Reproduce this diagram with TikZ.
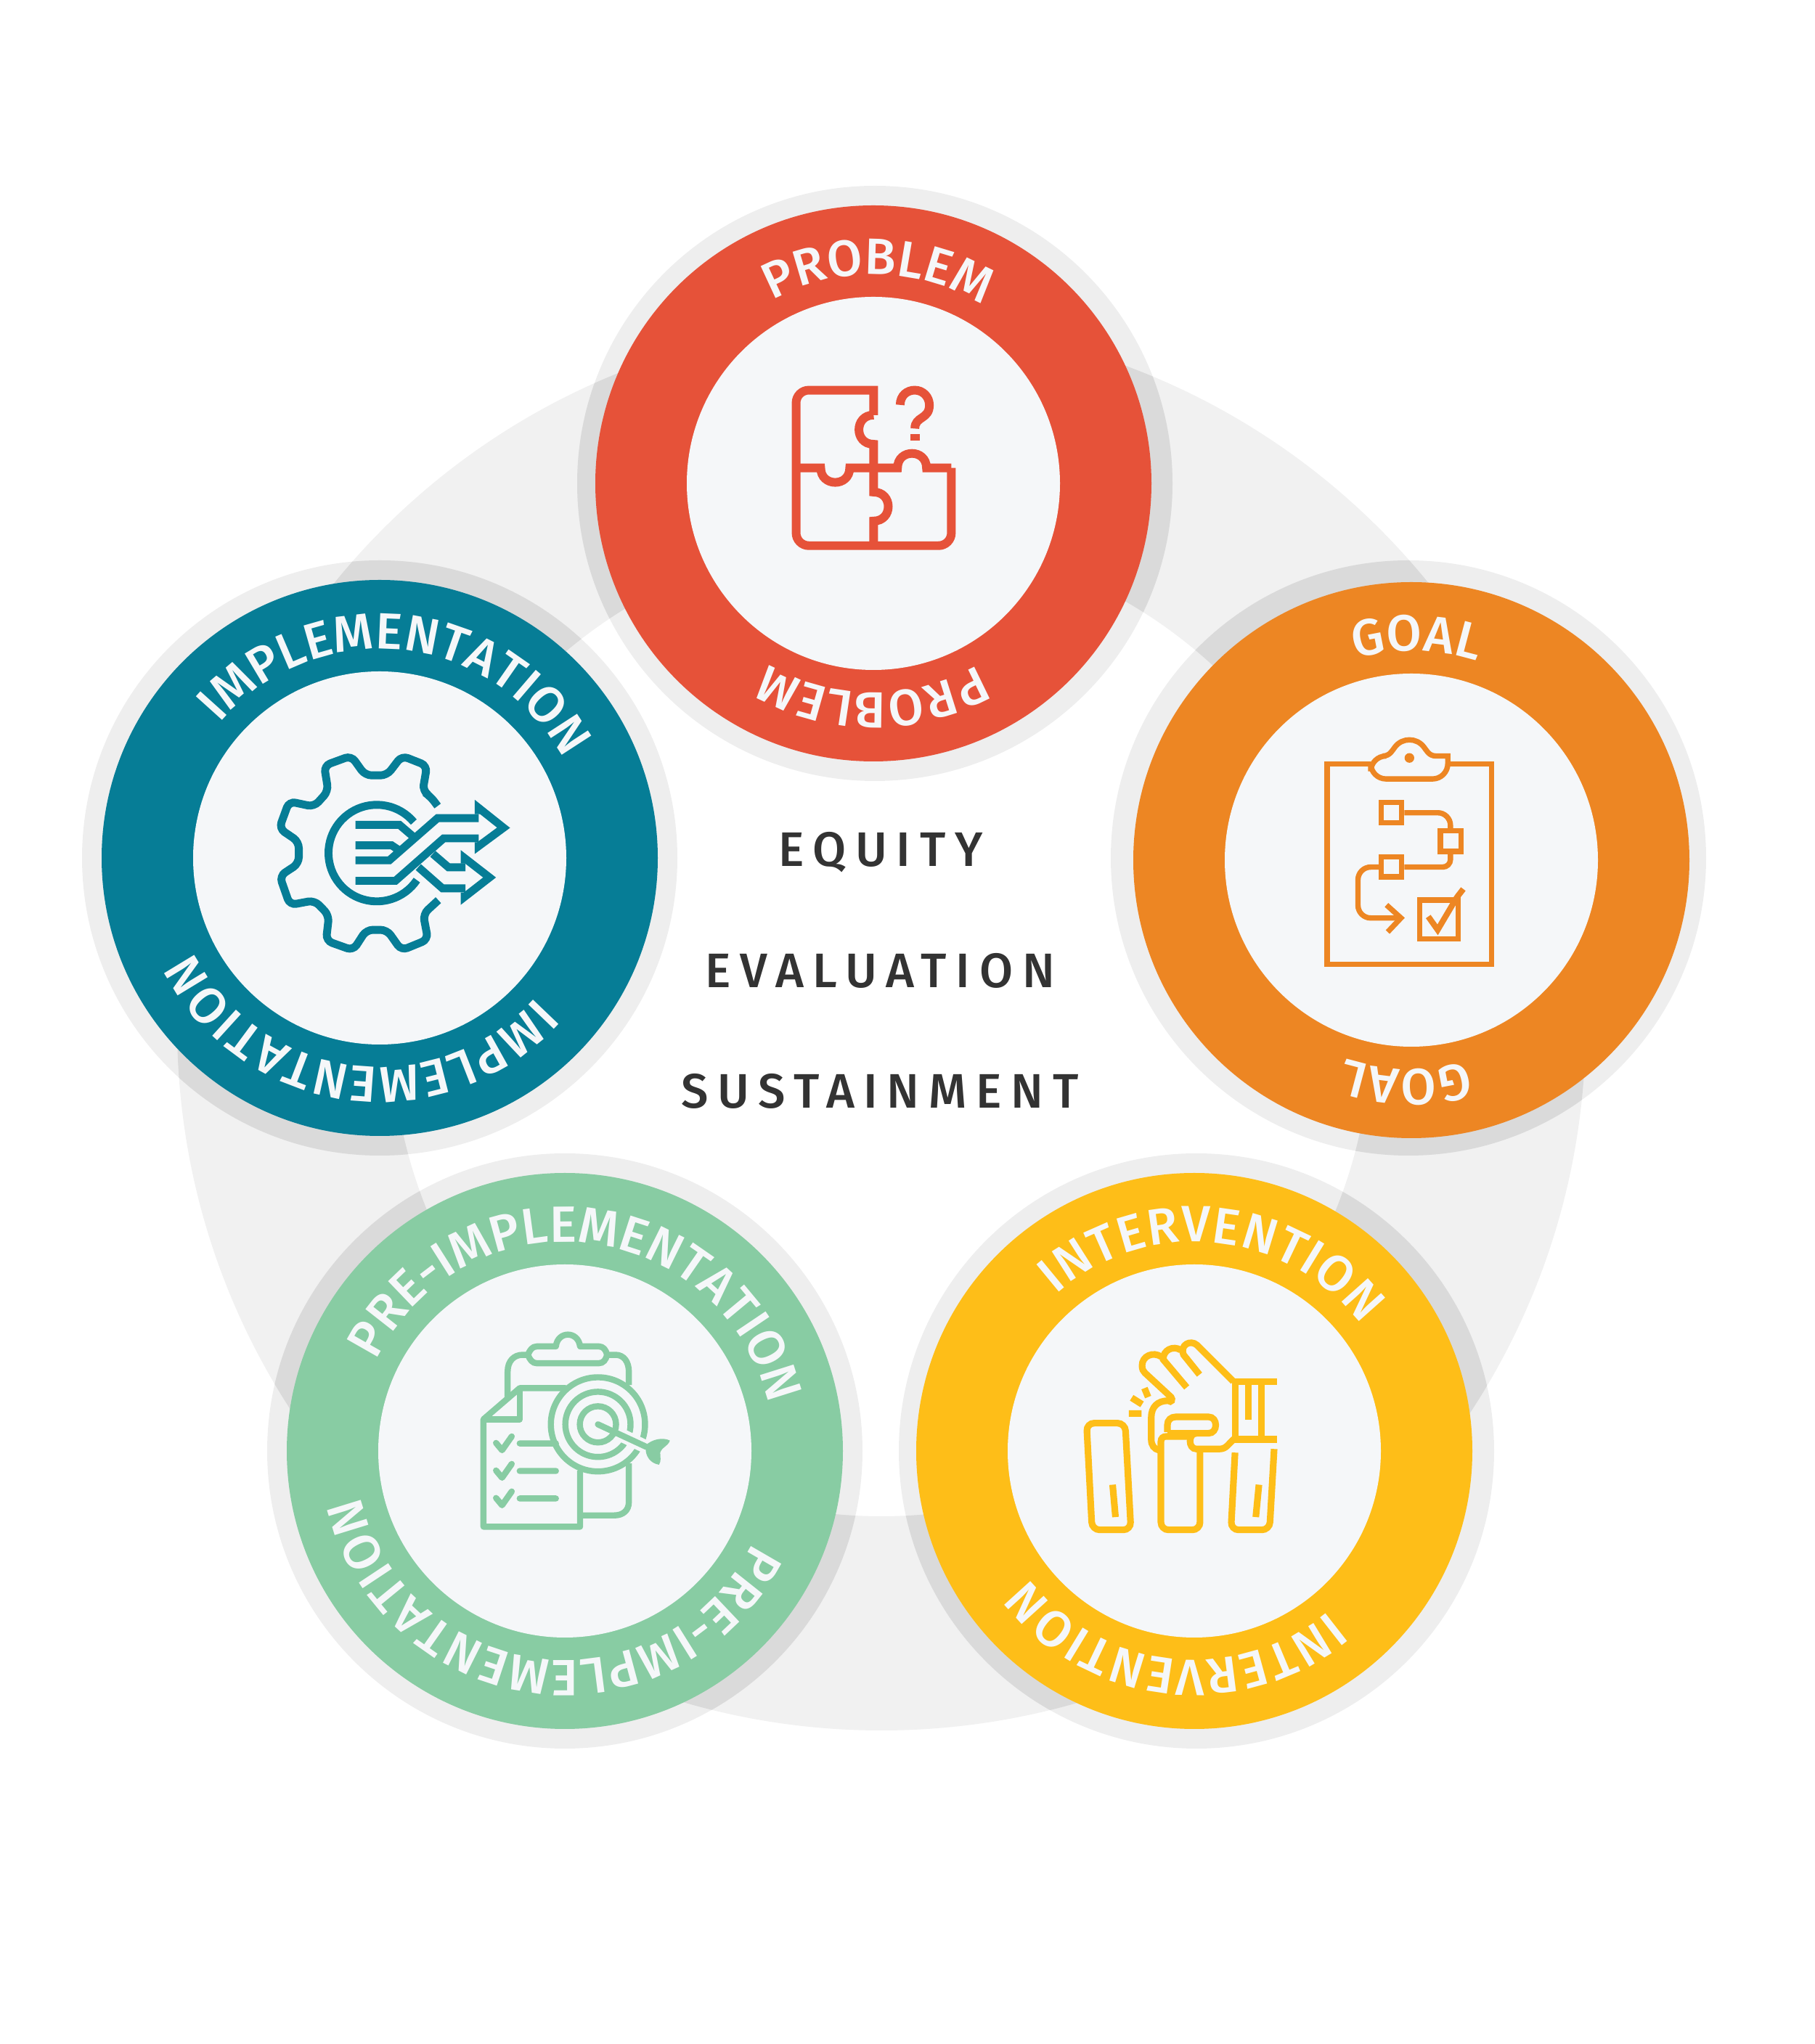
\documentclass[tikz,border=0pt]{standalone}
\usepackage{fontspec}
\setmainfont{Noto Sans}
\newfontfamily\labelfont{Fira Sans Medium}
\newfontfamily\captionfont{Fira Sans Medium}
\usetikzlibrary{decorations.text}
\definecolor{coral}{RGB}{230,82,57}
\definecolor{tangerine}{RGB}{237,134,35}
\definecolor{sun}{RGB}{254,190,24}
\definecolor{mint}{RGB}{136,204,163}
\definecolor{teal}{RGB}{6,125,150}
\definecolor{paper}{RGB}{245,247,249}
\definecolor{track}{RGB}{241,241,241}
\definecolor{halo}{RGB}{238,238,238}
\definecolor{overlap}{RGB}{218,218,218}
\definecolor{ink}{RGB}{51,51,51}
\tikzset{
  disc/.style={circle,fill=#1,minimum size=7.66cm,inner sep=0pt,outer sep=0pt},
  hub/.style={circle,fill=paper,minimum size=5.14cm,inner sep=0pt,outer sep=0pt},
  caption/.style={anchor=base,text=ink,font=\captionfont\fontsize{19pt}{19pt}\selectfont\addfontfeature{LetterSpace=19}},
  icon/.style={x=0.0033333cm,y=-0.0033333cm},
  % pictograms, in thirds of a pixel from the top left corner
  pics/puzzle/.style={code={
    \tikzset{icon}
    \draw[#1,line width=3.4pt] (491,246) .. controls (410,246) and (410,367) .. (491,367) -- (491,565) .. controls (572,565) and (572,685) .. (491,685) -- (491,787);
    \draw[#1,line width=3.4pt] (491,246) -- (491,143) [rounded corners=5pt] -- (170,143) -- (170,787) -- (813,787) -- (813,465) [sharp corners];
    \draw[#1,line width=3.4pt] (170,465) -- (272,465) .. controls (272,545) and (392,545) .. (392,465) -- (590,465)
      .. controls (590,385) and (710,385) .. (710,465) -- (813,465);
    \draw[#1,line width=3.4pt] (601,204) .. controls (601,165) and (630,143) .. (661,143) .. controls (695,143) and (722,170) .. (722,205)
      .. controls (722,265) and (662,250) .. (662,302);
    \fill[#1] (643,324) rectangle (681,351);
  }},
  pics/flowboard/.style={code={
    \tikzset{icon}
    \draw[#1,line width=2.1pt] (295,188) -- (114,188) -- (114,1018) -- (795,1018) -- (795,188) -- (614,188);
    \draw[#1,line width=2.1pt] (295,155) -- (345,155) .. controls (375,155) and (385,130) .. (395,118) .. controls (425,78) and (485,78) .. (515,118)
      .. controls (525,130) and (535,155) .. (565,155) -- (614,155) [rounded corners=6pt] -- (614,250) -- (295,250) -- cycle [sharp corners];
    \fill[#1] (455,163) circle (20);
    \draw[#1,line width=2.1pt] (338,348) rectangle (423,432) (583,465) rectangle (668,550) (338,572) rectangle (423,656) (498,752) rectangle (657,912);
    \draw[#1,line width=2.1pt,rounded corners=5pt] (434,390) -- (625,390) -- (625,454);
    \draw[#1,line width=2.1pt,rounded corners=3pt] (625,561) -- (625,615) -- (434,615);
    \draw[#1,line width=2.1pt,rounded corners=5pt] (327,615) -- (242,615) -- (242,826) -- (420,826);
    \draw[#1,line width=2.1pt] (360,772) -- (420,826) -- (365,884);
    \draw[#1,line width=2.3pt] (533,820) -- (572,875) -- (640,760) .. controls (650,740) and (660,730) .. (678,706);
  }},
  pics/cups/.style={code={
    \tikzset{icon}
    \draw[#1,line width=2.6pt,rounded corners=3pt] (110,453) -- (270,453) -- (294,895) -- (133,895) -- cycle;
    \draw[#1,line width=2.6pt] (218,708) -- (230,842);
    \draw[#1,line width=2.6pt,rounded corners=3pt] (418,575) -- (418,895) -- (580,895) -- (580,570);
    \draw[#1,line width=2.6pt,rounded corners=3pt] (725,575) -- (708,895) -- (868,895) -- (887,560);
    \draw[#1,line width=2.6pt] (824,708) -- (811,842);
    \draw[#1,line width=2.6pt] (718,280) -- (900,280) (725,520) -- (900,520) (725,280) -- (725,520) (833,280) -- (833,520) (779,280) -- (779,440);
    \draw[#1,line width=2.6pt] (718,280) -- (568,130) .. controls (540,105) and (495,130) .. (512,170) -- (578,252);
    \draw[#1,line width=2.6pt] (500,150) .. controls (470,130) and (425,150) .. (428,190) -- (525,305);
    \draw[#1,line width=2.6pt] (420,178) .. controls (385,155) and (340,175) .. (340,215) .. controls (340,230) and (345,238) .. (352,245) -- (460,345)
      .. controls (468,355) and (462,370) .. (448,360) .. controls (405,360) and (378,385) .. (378,430) -- (378,520) .. controls (378,545) and (390,560) .. (410,565);
    \draw[#1,line width=2.6pt] (445,490) -- (445,460) .. controls (445,440) and (460,427) .. (480,427) -- (615,427) .. controls (655,427) and (655,495) .. (615,495)
      -- (565,495) .. controls (530,495) and (530,560) .. (565,560) -- (660,560) .. controls (690,560) and (695,540) .. (725,515);
    \draw[#1,line width=2.6pt] (445,494) -- (615,494);
    \draw[#1,line width=2.6pt] (418,575) -- (418,530) .. controls (418,515) and (428,508) .. (440,508) -- (535,508);
    \draw[#1,line width=2.6pt] (285,413) -- (338,413) (297,348) -- (340,375) (350,308) -- (365,345);
  }},
  pics/target/.style={code={
    \tikzset{icon}
    \draw[#1,line width=2.4pt,line join=round] (178,345) -- (178,240) .. controls (178,195) and (205,170) .. (240,170) -- (262,170)
      .. controls (270,150) and (280,135) .. (300,135) -- (378,135) .. controls (385,70) and (470,70) .. (478,135) -- (555,135)
      .. controls (575,135) and (585,150) .. (590,170) -- (625,170) .. controls (660,170) and (680,200) .. (680,240) -- (680,295);
    \draw[#1,line width=2.4pt] (262,170) .. controls (270,190) and (280,205) .. (300,205) -- (555,205) .. controls (575,205) and (585,190) .. (590,170);
    \draw[#1,line width=2.4pt] (680,620) -- (680,780) .. controls (680,815) and (655,835) .. (620,835) -- (480,835);
    \draw[#1,line width=2.4pt,line join=round] (420,308) -- (228,308) -- (78,437) -- (78,882) -- (478,882) -- (478,650);
    \draw[#1,line width=2.4pt,line join=round] (228,308) -- (228,437) -- (78,437);
    \draw[#1,line width=2.4pt] (552,458) circle (195) (552,458) circle (135) (552,458) circle (75);
    \draw[paper,line width=5.2pt] (640,498) -- (752,552);
    \draw[#1,line width=2.4pt,line cap=round] (552,458) -- (750,550);
    \fill[#1] (750,545) .. controls (775,520) and (820,510) .. (850,525) .. controls (845,545) and (815,555) .. (810,575)
      .. controls (810,595) and (815,610) .. (805,625) .. controls (770,620) and (745,590) .. (750,545) -- cycle;
    \foreach \y in {0,114,228}
      \draw[#1,line width=2.4pt,line cap=round,line join=round] (130,535+\y) -- (155,565+\y) -- (195,508+\y) (228,537+\y) -- (378,537+\y);
  }},
  pics/gear/.style={code={
    \tikzset{icon}
    \draw[#1,line width=3.1pt,rounded corners=2.5pt] (730,302) -- (700,262) -- (668,240) -- (686,135) -- (582,94) -- (520,175) -- (430,175) -- (372,94) -- (260,135)
      -- (277,240) -- (218,305) -- (115,283) -- (74,395) -- (155,450) -- (155,540) -- (76,592) -- (118,712) -- (220,693) -- (280,755) -- (268,860) -- (380,900)
      -- (435,815) -- (520,815) -- (580,900) -- (690,855) -- (670,750) -- (733,692);
    \draw[#1,line width=3.1pt] plot[domain=-40:-326,samples=60] ({478+200*cos(\x)},{497+200*sin(\x)});
    \draw[#1,line width=3.1pt] (390,380) -- (572,380) -- (628,428) (390,465) -- (540,465) -- (570,485);
    \draw[#1,line width=3.1pt] (390,527) -- (530,527) -- (730,352) -- (900,352);
    \draw[#1,line width=3.1pt] (390,612) -- (555,612) -- (755,436) -- (900,436);
    \draw[#1,line width=3.1pt] (710,500) -- (775,556) -- (845,556) (650,555) -- (750,643) -- (845,643);
    \draw[#1,line width=3.1pt] (900,336) -- (900,310) -- (1003,392) -- (900,468) -- (900,452);
    \draw[#1,line width=3.1pt] (842,540) -- (842,518) -- (945,598) -- (842,678) -- (842,660);
  }},
}
\begin{document}
\begin{tikzpicture}
  \useasboundingbox (0,0) rectangle (25,28.16);
  \coordinate (centre) at (12.14,14.02);
  \fill[track,even odd rule] (centre) circle (9.70) (centre) circle (6.75);
  \foreach \n/\x/\y/\hx/\hy/\c in {problem/12.03/21.50/12.05/21.50/coral,goal/19.44/16.31/19.40/16.34/tangerine,intervention/16.45/8.17/16.48/8.17/sun,preimpl/7.78/8.17/7.78/8.17/mint,impl/5.23/16.34/5.23/16.34/teal}{
    \fill[halo] (\hx,\hy) circle (4.10);
    \begin{scope}
      \clip (\hx,\hy) circle (4.10);
      \fill[overlap,even odd rule] (centre) circle (9.70) (centre) circle (6.75);
    \end{scope}
    \node[disc=\c] (\n) at (\x,\y) {};
    \node[hub] (\n hub) at (\x,\y) {};
  }
  \foreach \n/\t/\a/\b/\p/\q in {problem/PROBLEM/119/58.5/-60/-118,goal/GOAL/105.5/74.5/-74.5/-105.5,intervention/INTERVENTION/131.5/37/-50/-142.5,preimpl/PRE-IMPLEMENTATION/154.4/13.6/-26/-167,impl/IMPLEMENTATION/140/28.5/-41.7/-151.6}{
    \path[postaction={decorate,decoration={text along path,text align={fit to path},text={|\labelfont\fontsize{20pt}{20pt}\selectfont\color{paper}|\t}}}]
      (\n.center) ++(\a:2.88) arc[start angle=\a,end angle=\b,radius=2.88];
    \path[postaction={decorate,decoration={text along path,text align={fit to path},text={|\labelfont\fontsize{20pt}{20pt}\selectfont\color{paper}|\t}}}]
      (\n.center) ++(\p:2.88) arc[start angle=\p,end angle=\q,radius=2.88];
  }
  \pic at (10.40,23.26) {puzzle=coral};
  \pic at (17.90,18.26) {flowboard=tangerine};
  \pic at (14.60,10.06) {cups=sun};
  \pic at (6.40,10.06) {target=mint};
  \pic at (3.60,18.06) {gear=teal};
  \node[caption] (equity) at (12.13,16.22) {EQUITY};
  \node[caption] (evaluation) at (12.12,14.55) {EVALUATION};
  \node[caption] (sustainment) at (12.12,12.89) {SUSTAINMENT};
\end{tikzpicture}
\end{document}
